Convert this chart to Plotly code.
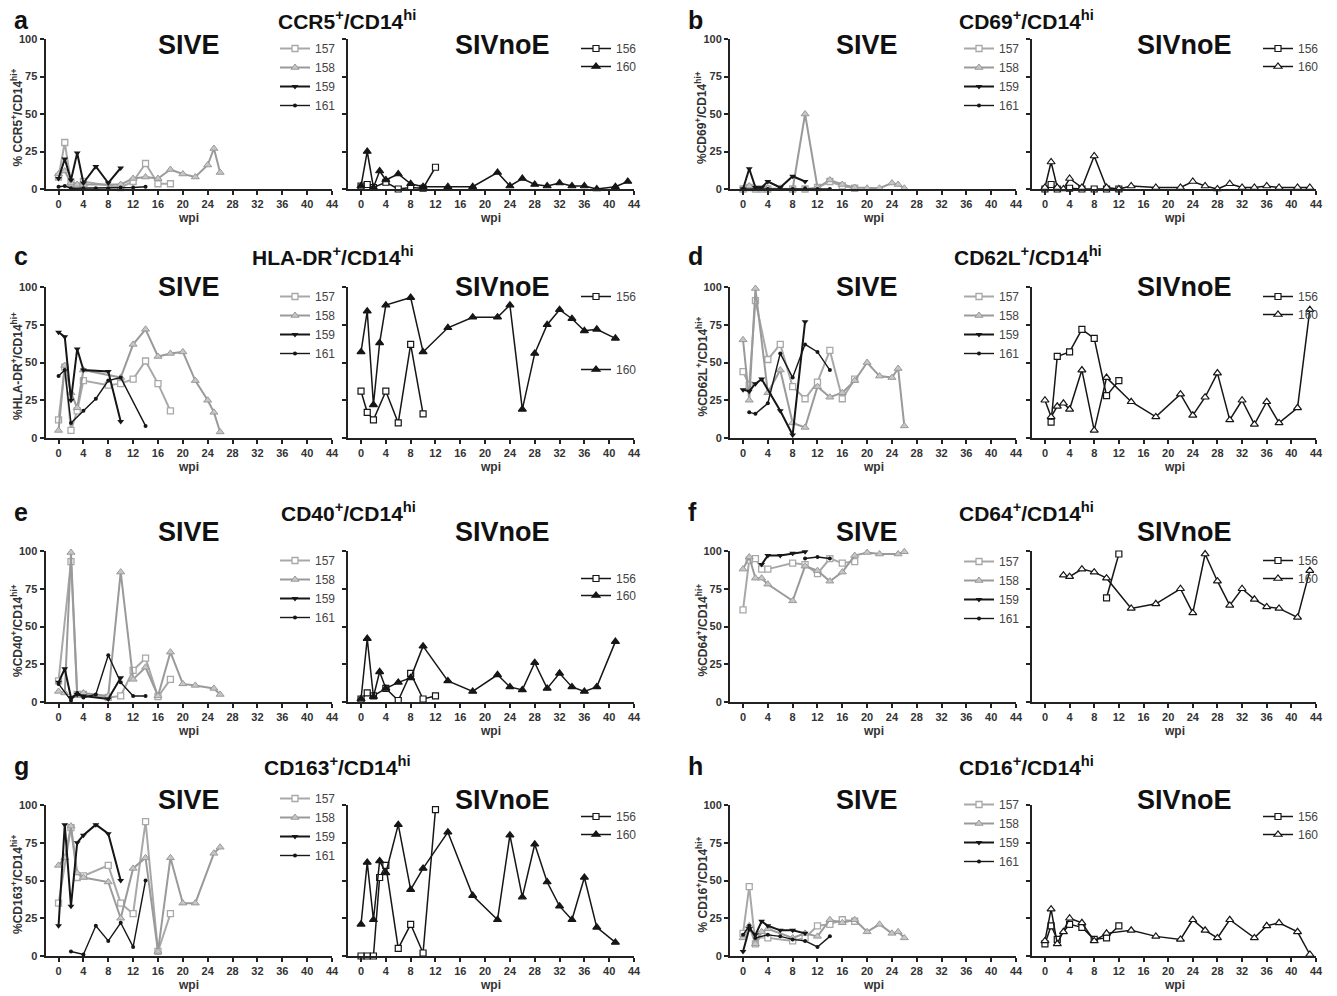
import plotly.graph_objects as go

# ---------------- data (wpi, % positive) ----------------
# a: CCR5+/CD14hi
a157_x = [0, 1, 2, 3, 4, 10, 12, 14, 16, 18]
a157_y = [8, 31, 4, 2, 5, 1, 5, 17, 3.5, 3.5]
a158_x = [0, 1, 2, 3, 4, 10, 12, 14, 16, 18, 20, 22, 24, 25, 26]
a158_y = [10, 12, 4, 3, 3, 3, 7, 8, 7, 13, 10, 8, 16, 27, 11]
a159_x = [0, 1, 2, 3, 4, 6, 8, 10]
a159_y = [7, 20, 6, 24, 4, 15, 4, 14]
a161_x = [0, 1, 2, 4, 6, 8, 10, 12, 14]
a161_y = [1.5, 2, 0.5, 0.5, 0.5, 0.5, 1, 1, 1.5]
a156_x = [0, 1, 2, 4, 6, 8, 10, 12]
a156_y = [2, 3, 1, 4.5, 0, 1, 0.5, 14.5]
a160_x = [0, 1, 2, 3, 4, 6, 8, 10, 14, 18, 22, 24, 26, 28, 30, 32, 34, 36, 38, 41, 43]
a160_y = [2, 25, 1, 12, 6, 10, 3.5, 1.5, 1.5, 1.5, 11, 2, 7, 3, 2, 4, 2, 2, 0, 1.5, 5]

# b: CD69+/CD14hi
b157_x = [0, 1, 2, 3, 4, 8, 10, 12, 14, 16, 18]
b157_y = [0, 1, 0, 0, 0, 0, 0, 1, 5, 2, 0.5]
b158_x = [0, 1, 2, 4, 6, 8, 10, 12, 14, 16, 18, 20, 22, 24, 25, 26]
b158_y = [0, 2, 0.5, 0.5, 0.5, 0, 50, 1, 6, 3, 1, 0.5, 0.5, 4, 3, 0.5]
b159_x = [0, 1, 2, 3, 4, 6, 8, 10]
b159_y = [0, 13.5, 1, 1, 5, 1, 8.5, 5]
b161_x = [0, 2, 4, 6, 8, 10, 12, 14]
b161_y = [0, 0, 0, 0, 0, 0.5, 0, 0]
b156_x = [0, 1, 2, 4, 6, 8, 10, 12]
b156_y = [0, 3, 0, 0.5, 0, 0, 0, 0]
b160_x = [0, 1, 2, 3, 4, 6, 8, 10, 12, 14, 18, 22, 24, 26, 28, 30, 32, 34, 36, 38, 41, 43]
b160_y = [1, 18, 1, 0, 7, 1, 22, 1, 0, 2, 1, 1, 5, 2, 0, 3.5, 1, 1, 2, 1, 1, 1]

# c: HLA-DR+/CD14hi
c157_x = [0, 1, 2, 3, 4, 8, 10, 12, 14, 16, 18]
c157_y = [12, 47, 5, 18, 38, 35, 36, 39, 51, 36, 18]
c158_x = [0, 1, 2, 3, 4, 10, 12, 14, 16, 18, 20, 22, 24, 25, 26]
c158_y = [5, 48, 30, 20, 45, 40, 62, 72, 54, 56, 57, 38, 25, 17, 4]
c159_x = [0, 1, 2, 3, 4, 8, 10]
c159_y = [70, 67, 25, 59, 45, 44, 11]
c161_x = [0, 1, 2, 4, 6, 8, 10, 14]
c161_y = [41, 45, 10, 18, 26, 38, 40, 8]
c156_x = [0, 1, 2, 4, 6, 8, 10]
c156_y = [31, 17, 12, 31, 10, 62, 16]
c160_x = [0, 1, 2, 3, 4, 8, 10, 14, 18, 22, 24, 26, 28, 30, 32, 34, 36, 38, 41]
c160_y = [57, 84, 22, 63, 88, 93, 57, 73, 80, 80, 88, 19, 56, 75, 85, 79, 71, 72, 66]

# d: CD62L+/CD14hi
d157_x = [0, 1, 2, 4, 6, 8, 10, 12, 14, 16, 18]
d157_y = [44, 35, 91, 52, 62, 34, 26, 37, 58, 26, 39]
d158_x = [0, 1, 2, 4, 6, 8, 10, 12, 14, 16, 18, 20, 22, 24, 25, 26]
d158_y = [65, 25, 99, 30, 45, 10, 7, 34, 27, 30, 38, 50, 41, 40, 46, 8]
d159_x = [0, 1, 2, 3, 6, 8, 10]
d159_y = [32, 31, 36, 39, 18, 2, 77]
d161_x = [1, 2, 4, 6, 8, 10, 12, 14]
d161_y = [17, 16, 23, 56, 40, 62, 57, 45]
d156_x = [1, 2, 4, 6, 8, 10, 12]
d156_y = [10.5, 54, 57, 72, 66, 28, 38]
d160_x = [0, 1, 2, 3, 4, 6, 8, 10, 14, 18, 22, 24, 26, 28, 30, 32, 34, 36, 38, 41, 43]
d160_y = [25, 14, 21, 23, 19, 45, 5, 40, 24, 14, 29, 15, 27, 43, 12, 25, 9, 24, 10, 20, 85]

# e: CD40+/CD14hi
e157_x = [0, 2, 3, 4, 8, 10, 12, 14, 16, 18]
e157_y = [14, 93, 5, 5, 3, 4, 21, 29, 3.5, 15]
e158_x = [0, 1, 2, 3, 4, 8, 10, 12, 14, 16, 18, 20, 22, 25, 26]
e158_y = [7, 6, 99, 5, 6, 4, 86, 15, 23, 4, 33, 12, 11, 9, 5]
e159_x = [0, 1, 2, 3, 4, 8, 10]
e159_y = [13, 22, 3, 5, 4, 2, 16]
e161_x = [0, 2, 3, 4, 6, 8, 10, 12, 14]
e161_y = [12, 1, 6, 3, 5, 31, 13, 4, 4]
e156_x = [0, 1, 2, 4, 6, 8, 10, 12]
e156_y = [2, 6, 4, 9, 1, 19, 2, 4]
e160_x = [0, 1, 2, 3, 4, 6, 8, 10, 14, 18, 22, 24, 26, 28, 30, 32, 34, 36, 38, 41]
e160_y = [2, 42, 3.5, 20, 9, 13, 16, 37, 14, 7, 18, 10, 8, 26, 9, 19, 10, 7, 10, 40]

# f: CD64+/CD14hi
f157_x = [0, 1, 2, 3, 4, 8, 10, 12, 14, 16, 18]
f157_y = [61, 94, 95, 88, 88, 92, 91, 85, 95, 92, 93]
f158_x = [0, 1, 2, 3, 4, 8, 10, 12, 14, 16, 18, 20, 22, 25, 26]
f158_y = [88, 96, 82, 82, 78, 67, 90, 87, 80, 86, 97, 99, 98, 98, 99.5]
f159_x = [3, 4, 6, 8, 10]
f159_y = [91, 97, 97, 98.5, 99.5]
f161_x = [10, 12, 14]
f161_y = [95, 96, 95]
f156_x = [10, 12]
f156_y = [69, 98]
f160_x = [3, 4, 6, 8, 10, 14, 18, 22, 24, 26, 28, 30, 32, 34, 36, 38, 41, 43]
f160_y = [84, 83, 88, 86, 82, 62, 65, 75, 59, 98, 80, 64, 75, 68, 63, 62, 56, 87]

# g: CD163+/CD14hi
g157_x = [0, 2, 3, 4, 8, 10, 12, 14, 16, 18]
g157_y = [35, 85, 52, 53, 60, 35, 28, 89, 3, 28]
g158_x = [0, 1, 2, 3, 4, 8, 10, 12, 14, 16, 18, 20, 22, 25, 26]
g158_y = [60, 65, 86, 55, 52, 49, 25, 58, 65, 3, 65, 35, 35, 68, 72]
g159_x = [0, 1, 2, 3, 4, 6, 8, 10]
g159_y = [20, 87, 33, 75, 80, 87, 81, 50]
g161_x = [2, 4, 6, 8, 10, 12, 14]
g161_y = [3, 1, 20, 10, 22, 6, 50]
g156_x = [0, 1, 2, 3, 4, 6, 8, 10, 12]
g156_y = [0, 0, 0, 52, 60, 5, 21, 2, 97]
g160_x = [0, 1, 2, 3, 4, 6, 8, 10, 14, 18, 22, 24, 26, 28, 30, 32, 34, 36, 38, 41]
g160_y = [21, 62, 24, 63, 55, 87, 44, 58, 82, 40, 24, 80, 39, 74, 49, 33, 24, 52, 19, 9]

# h: CD16+/CD14hi
h157_x = [0, 1, 2, 3, 4, 8, 10, 12, 14, 16, 18]
h157_y = [15, 46, 8, 14, 12, 10, 12, 20, 21, 24, 23]
h158_x = [0, 1, 2, 3, 4, 8, 10, 12, 14, 16, 18, 20, 22, 24, 25, 26]
h158_y = [12, 20, 8, 16, 18, 12, 15, 13, 24, 22, 24, 16, 21, 15, 16, 12]
h159_x = [0, 1, 2, 3, 4, 6, 8, 10]
h159_y = [3, 18, 14, 23, 20, 17, 17, 15]
h161_x = [0, 1, 2, 4, 6, 8, 10, 12, 14]
h161_y = [14, 20, 12, 14, 13, 11, 10, 6, 13]
h156_x = [0, 1, 2, 4, 6, 8, 10, 12]
h156_y = [8, 20, 11, 21, 19, 11, 12, 20]
h160_x = [0, 1, 2, 3, 4, 6, 8, 10, 14, 18, 22, 24, 26, 28, 30, 34, 36, 38, 41, 43]
h160_y = [10, 31, 8, 16, 25, 22, 10, 15, 17, 13, 11, 24, 17, 12, 24, 12, 20, 22, 16, 1]

WPI_TICKS = [0, 4, 8, 12, 16, 20, 24, 28, 32, 36, 40, 44]
PCT_TICKS = [0, 25, 50, 75, 100]

# ---------------- layout helpers ----------------
W, H = 1337, 996
FONT = "Liberation Sans, Arial, Helvetica, sans-serif"


def px(x):
    return x / W


def py(y):
    return 1 - y / H


GRAY1 = "#a8a8a8"
GRAY2 = "#9a9a9a"
BLACK = "#161616"


def style(animal, open160):
    if animal == "157":
        return dict(line=dict(color=GRAY1, width=2),
                    marker=dict(symbol="square", size=6, color="white", line=dict(color=GRAY1, width=1.3)))
    if animal == "158":
        return dict(line=dict(color=GRAY2, width=2),
                    marker=dict(symbol="triangle-up", size=7, color="#c6c6c6", line=dict(color=GRAY2, width=1)))
    if animal == "159":
        return dict(line=dict(color=BLACK, width=2),
                    marker=dict(symbol="triangle-down", size=6, color=BLACK))
    if animal == "161":
        return dict(line=dict(color=BLACK, width=1.4),
                    marker=dict(symbol="circle", size=4, color=BLACK))
    if animal == "156":
        return dict(line=dict(color=BLACK, width=1.5),
                    marker=dict(symbol="square", size=6, color="white", line=dict(color=BLACK, width=1.2)))
    # 160
    return dict(line=dict(color=BLACK, width=1.5),
                marker=dict(symbol="triangle-up", size=7,
                            color="white" if open160 else BLACK, line=dict(color=BLACK, width=1.2)))


COLS = [(45.5, 332, 348, 634), (730, 1016, 1032, 1316)]
ROWS = [(39, 189), (287, 438), (551, 702), (805, 956)]
LABEL_OFFSETS = [(143, 155), (137, 152)]

PANELS = [
    dict(letter="a", r=0, c=0, title="CCR5<sup>+</sup>/CD14<sup>hi</sup>", tcx=347, ty=20,
         ytitle="% CCR5<sup>+</sup>/CD14<sup>hi+</sup>",
         sive=[("157", a157_x, a157_y), ("158", a158_x, a158_y), ("159", a159_x, a159_y), ("161", a161_x, a161_y)],
         noe=[("156", a156_x, a156_y), ("160", a160_x, a160_y)], open160=False,
         lsive=49, lnoe=[49, 67], sy=45),
    dict(letter="b", r=0, c=1, title="CD69<sup>+</sup>/CD14<sup>hi</sup>", tcx=1026, ty=20,
         ytitle="%CD69<sup>+</sup>/CD14<sup>hi+</sup>",
         sive=[("157", b157_x, b157_y), ("158", b158_x, b158_y), ("159", b159_x, b159_y), ("161", b161_x, b161_y)],
         noe=[("156", b156_x, b156_y), ("160", b160_x, b160_y)], open160=True,
         lsive=49, lnoe=[49, 67], sy=45),
    dict(letter="c", r=1, c=0, title="HLA-DR<sup>+</sup>/CD14<sup>hi</sup>", tcx=333, ty=256,
         ytitle="%HLA-DR<sup>+</sup>/CD14<sup>hi+</sup>",
         sive=[("157", c157_x, c157_y), ("158", c158_x, c158_y), ("159", c159_x, c159_y), ("161", c161_x, c161_y)],
         noe=[("156", c156_x, c156_y), ("160", c160_x, c160_y)], open160=False,
         lsive=297, lnoe=[297, 370], sy=287),
    dict(letter="d", r=1, c=1, title="CD62L<sup>+</sup>/CD14<sup>hi</sup>", tcx=1028, ty=256,
         ytitle="%CD62L<sup>+</sup>/CD14<sup>hi+</sup>",
         sive=[("157", d157_x, d157_y), ("158", d158_x, d158_y), ("159", d159_x, d159_y), ("161", d161_x, d161_y)],
         noe=[("156", d156_x, d156_y), ("160", d160_x, d160_y)], open160=True,
         lsive=297, lnoe=[297, 315], sy=287),
    dict(letter="e", r=2, c=0, title="CD40<sup>+</sup>/CD14<sup>hi</sup>", tcx=348, ty=512,
         ytitle="%CD40<sup>+</sup>/CD14<sup>hi+</sup>",
         sive=[("157", e157_x, e157_y), ("158", e158_x, e158_y), ("159", e159_x, e159_y), ("161", e161_x, e161_y)],
         noe=[("156", e156_x, e156_y), ("160", e160_x, e160_y)], open160=False,
         lsive=561, lnoe=[579, 596], sy=532),
    dict(letter="f", r=2, c=1, title="CD64<sup>+</sup>/CD14<sup>hi</sup>", tcx=1026, ty=512,
         ytitle="%CD64<sup>+</sup>/CD14<sup>hi+</sup>",
         sive=[("157", f157_x, f157_y), ("158", f158_x, f158_y), ("159", f159_x, f159_y), ("161", f161_x, f161_y)],
         noe=[("156", f156_x, f156_y), ("160", f160_x, f160_y)], open160=True,
         lsive=562, lnoe=[561, 579], sy=532),
    dict(letter="g", r=3, c=0, title="CD163<sup>+</sup>/CD14<sup>hi</sup>", tcx=337, ty=766,
         ytitle="%CD163<sup>+</sup>/CD14<sup>hi+</sup>",
         sive=[("157", g157_x, g157_y), ("158", g158_x, g158_y), ("159", g159_x, g159_y), ("161", g161_x, g161_y)],
         noe=[("156", g156_x, g156_y), ("160", g160_x, g160_y)], open160=False,
         lsive=799, lnoe=[817, 835], sy=800),
    dict(letter="h", r=3, c=1, title="CD16<sup>+</sup>/CD14<sup>hi</sup>", tcx=1026, ty=766,
         ytitle="% CD16<sup>+</sup>/CD14<sup>hi+</sup>",
         sive=[("157", h157_x, h157_y), ("158", h158_x, h158_y), ("159", h159_x, h159_y), ("161", h161_x, h161_y)],
         noe=[("156", h156_x, h156_y), ("160", h160_x, h160_y)], open160=True,
         lsive=805, lnoe=[817, 835], sy=800),
]

fig = go.Figure()
layout = dict(width=W, height=H, margin=dict(l=0, r=0, t=0, b=0, autoexpand=False),
              paper_bgcolor="white", plot_bgcolor="white",
              font=dict(family=FONT, color="#222"), showlegend=True)
annotations = []

axis_common = dict(showgrid=False, zeroline=False, showline=True, linecolor="#222", linewidth=2,
                   ticks="outside", ticklen=4, tickwidth=1.5, tickcolor="#222",
                   tickfont=dict(family=FONT, size=11, color="#333", weight="bold"), fixedrange=True)

k = 0
leg_n = 0


def new_legend(x_text, y_center):
    global leg_n
    leg_n += 1
    name = "legend" if leg_n == 1 else f"legend{leg_n}"
    layout[name] = dict(x=px(x_text - 39), xanchor="left", y=py(y_center - 15), yanchor="top",
                        bgcolor="rgba(0,0,0,0)", borderwidth=0, itemwidth=30,
                        font=dict(family=FONT, size=12, color="#444"), tracegroupgap=0)
    return name


def ann(text, x, y, size, color="#111", angle=0, xanchor="center"):
    annotations.append(dict(text=text, x=px(x), y=py(y), xref="paper", yref="paper",
                            xanchor=xanchor, yanchor="middle", showarrow=False, textangle=angle,
                            font=dict(family=FONT, size=size, color=color, weight="bold")))


for p in PANELS:
    top, bot = ROWS[p["r"]]
    cols = COLS[p["c"]]
    for half in (0, 1):
        k += 1
        xl, xr = cols[2 * half], cols[2 * half + 1]
        xa = "xaxis" if k == 1 else f"xaxis{k}"
        ya = "yaxis" if k == 1 else f"yaxis{k}"
        xref = "x" if k == 1 else f"x{k}"
        yref = "y" if k == 1 else f"y{k}"
        layout[xa] = dict(axis_common, domain=[px(xl), px(xr)], range=[-2.1, 44],
                          tickvals=WPI_TICKS, anchor=yref)
        layout[ya] = dict(axis_common, domain=[py(bot), py(top)], range=[0, 100],
                          tickvals=PCT_TICKS, anchor=xref, showticklabels=(half == 0))
        series = p["sive"] if half == 0 else p["noe"]
        text_x = xr - 18 if half == 0 else xr - 19
        if half == 0:
            leg = new_legend(text_x, p["lsive"])
        for i, (animal, xs, ys) in enumerate(series):
            if half == 1:
                leg = new_legend(text_x, p["lnoe"][i])
            fig.add_trace(go.Scatter(x=xs, y=ys, mode="lines+markers", name=animal,
                                     xaxis=xref, yaxis=yref, legend=leg, cliponaxis=False,
                                     **style(animal, p["open160"])))
        ann("wpi", (xl + xr) / 2, bot + 29, 12, "#333")
        ann("SIVE" if half == 0 else "SIVnoE", xl + LABEL_OFFSETS[p["c"]][half], p["sy"], 27)
    ann(p["ytitle"], cols[0] - 29, (top + bot) / 2 + 4, 12, "#333", angle=-90)
    ann(p["title"], p["tcx"], p["ty"], 21)
    ann(p["letter"], 12 if p["c"] == 0 else 686, p["ty"], 25, xanchor="left")

layout["annotations"] = annotations
fig.update_layout(**layout)
fig.write_html("out.html")
